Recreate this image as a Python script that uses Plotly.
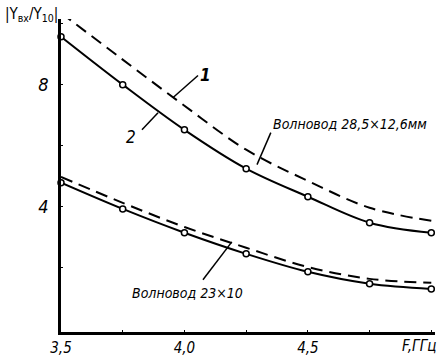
import plotly.graph_objects as go

F = [3.5, 3.75, 4.0, 4.25, 4.5, 4.75, 5.0]
# Waveguide 28.5 x 12.6 mm
upper_solid = [9.57, 8.0, 6.52, 5.25, 4.33, 3.48, 3.15]
upper_dashed = [10.35, 8.82, 7.31, 5.87, 4.85, 3.97, 3.54]
# Waveguide 23 x 10
lower_solid = [4.79, 3.93, 3.15, 2.46, 1.87, 1.48, 1.31]
lower_dashed = [4.98, 4.13, 3.34, 2.66, 2.03, 1.64, 1.51]

x_tickvals = [3.5, 3.75, 4.0, 4.25, 4.5, 4.75, 5.0]
x_ticktext = ["<i>3,5</i>", "", "<i>4,0</i>", "", "<i>4,5</i>", "", ""]
y_tickvals = [2, 4, 6, 8, 10]
y_ticktext = ["", "<i>4</i>", "", "<i>8</i>", ""]

FONT = "DejaVu Sans Condensed, Liberation Sans Narrow, Liberation Sans, sans-serif"

fig = go.Figure()
for ys in (upper_dashed, lower_dashed):
    fig.add_trace(go.Scatter(x=F, y=ys, mode="lines", line=dict(color="black", width=2, dash="12px,7px", shape="spline"),
                             showlegend=False, hoverinfo="skip"))
for ys in (upper_solid, lower_solid):
    fig.add_trace(go.Scatter(x=F, y=ys, mode="lines+markers", line=dict(color="black", width=2, shape="spline"),
                             marker=dict(symbol="circle", size=6, color="white", line=dict(color="black", width=1.5)),
                             showlegend=False, cliponaxis=False, hoverinfo="skip"))

# leader lines
leaders = [
    (3.953, 7.57, 4.055, 8.30),
    (3.828, 6.52, 3.893, 7.08),
    (4.35, 6.43, 4.294, 5.38),
    (4.075, 1.61, 4.192, 2.85),
]
for x0, y0, x1, y1 in leaders:
    fig.add_shape(type="line", x0=x0, y0=y0, x1=x1, y1=y1, xref="x", yref="y",
                  line=dict(color="black", width=1.5))

ann_font = dict(family=FONT, size=14, color="black")
fig.add_annotation(x=4.085, y=8.33, text="<b><i>1</i></b>", showarrow=False, font=dict(family=FONT, size=17, color="black"))
fig.add_annotation(x=3.783, y=6.30, text="<i>2</i>", showarrow=False, font=dict(family=FONT, size=17, color="black"))
fig.add_annotation(x=4.35, y=6.72, text="<i>Волновод 28,5×12,6мм</i>", xanchor="left", showarrow=False, font=ann_font)
fig.add_annotation(x=4.245, y=1.18, text="<i>Волновод 23×10</i>", xanchor="right", showarrow=False, font=ann_font)
fig.add_annotation(xref="paper", yref="paper", x=-0.155, y=1.013, xanchor="left", yanchor="middle",
                   text="|Y<sub>вх</sub>/Y<sub>10</sub>|", showarrow=False, font=dict(family=FONT, size=15, color="black"))
fig.add_annotation(xref="paper", yref="paper", x=1.008, y=-0.045, xanchor="right", yanchor="middle",
                   text="<i>F,ГГц</i>", showarrow=False, font=dict(family=FONT, size=15, color="black"))

fig.update_layout(
    width=438, height=357,
    margin=dict(l=61, r=3, t=19, b=25),
    paper_bgcolor="white", plot_bgcolor="white",
    font=dict(family=FONT, size=15, color="black"),
    xaxis=dict(range=[3.5, 5.015], tickvals=x_tickvals, ticktext=x_ticktext, showgrid=False, zeroline=False,
               showline=True, linecolor="black", linewidth=2.5, ticks="inside", ticklen=2, tickcolor="black",
               tickfont=dict(family=FONT, size=15), automargin=False, ticklabelstandoff=0),
    yaxis=dict(range=[-0.1, 10.15], tickvals=y_tickvals, ticktext=y_ticktext, showgrid=False, zeroline=False,
               showline=True, linecolor="black", linewidth=2.5, ticks="inside", ticklen=2, tickcolor="black",
               tickfont=dict(family=FONT, size=18), ticklabelstandoff=6, automargin=False),
)
fig.write_html("out.html", config={"displayModeBar": False},
               post_script="document.body.style.margin='0';")
